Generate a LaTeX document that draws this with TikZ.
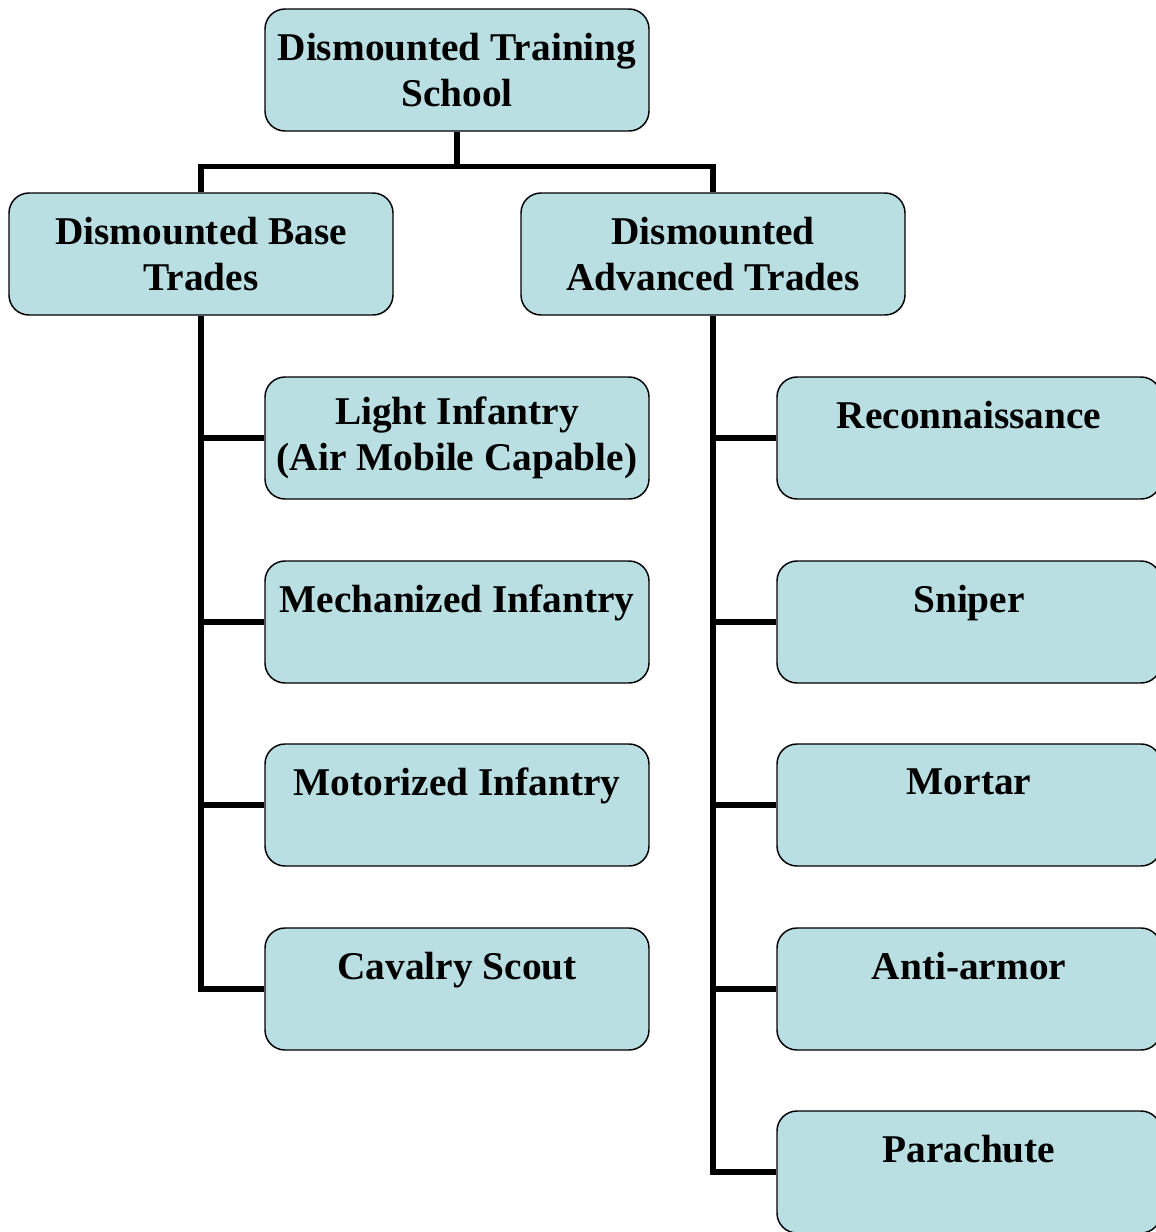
\documentclass[tikz,border=0pt]{standalone}
\usepackage{fontspec}
\setmainfont{Liberation Serif}
\usetikzlibrary{positioning,calc}
\definecolor{boxfill}{RGB}{185,223,226}
\tikzset{
  unitbox/.style={draw, line width=1.1pt, fill=boxfill, rounded corners=15pt,
    minimum width=288pt, minimum height=91.5pt, inner sep=2pt, align=center,
    font=\fontsize{29.5}{34.5}\selectfont\bfseries},
  link/.style={line width=3.8pt}
}
\begin{document}
\begin{tikzpicture}[x=0.75pt,y=-0.75pt]
				      \clip (0,0) rectangle (1156,1232);
				      \useasboundingbox (0,0) rectangle (1156,1232);
				      \node[unitbox, name=school] at (457,70)  {Dismounted Training\\School};
				      \node[unitbox, name=base]   at (201,254) {Dismounted Base\\Trades};
				      \node[unitbox, name=adv]    at (713,254) {Dismounted\\Advanced Trades};
				      \node[unitbox, name=light]  at (457,438) {Light Infantry\\(Air Mobile Capable)};
				      \node[unitbox, name=mech]   at (457,622) {Mechanized Infantry\\~};
				      \node[unitbox, name=motor]  at (457,805) {Motorized Infantry\\~};
				      \node[unitbox, name=scout]  at (457,989) {Cavalry Scout\\~};
				      \node[unitbox, name=recce]  at (969,438) {Reconnaissance\\~};
				      \node[unitbox, name=sniper] at (969,622) {Sniper\\~};
				      \node[unitbox, name=mortar] at (969,805) {Mortar\\~};
				      \node[unitbox, name=antiarm] at (969,989) {Anti-armor\\~};
				      \node[unitbox, name=para]   at (969,1172) {Parachute\\~};
				      \draw[link] (school.south) -- ++(0,35) coordinate (split);
				      \draw[link] (base.north) |- (split) -| (adv.north);
				      \draw[link] (base.south) |- (scout.west);
				      \foreach \b in {light,mech,motor}
				        \draw[link] (base.south |- \b.west) -- (\b.west);
				      \draw[link] (adv.south) |- (para.west);
				      \foreach \b in {recce,sniper,mortar,antiarm}
				        \draw[link] (adv.south |- \b.west) -- (\b.west);
			      \end{tikzpicture}
\end{document}
